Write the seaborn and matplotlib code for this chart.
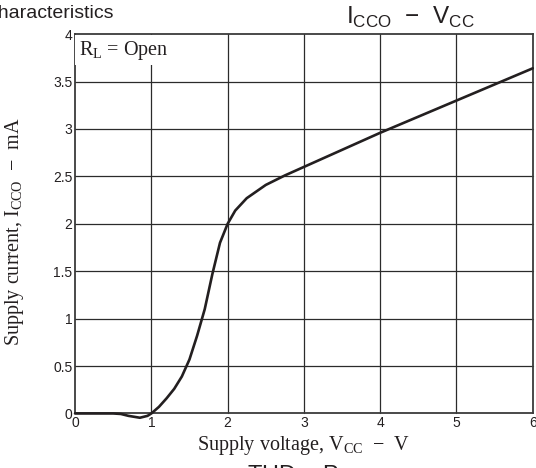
import matplotlib
matplotlib.use("Agg")
import matplotlib.pyplot as plt
import seaborn as sns
import pandas as pd

# Supply current vs supply voltage (RL = Open)
vcc = [0.0, 0.5, 0.6, 0.7, 0.85, 0.95, 1.0, 1.1, 1.2, 1.3, 1.4, 1.5, 1.6, 1.7,
       1.8, 1.9, 2.0, 2.1, 2.25, 2.5, 2.75, 3.0, 3.5, 4.0, 4.5, 5.0, 5.5, 6.0]
icco = [0.0, 0.0, -0.005, -0.025, -0.045, -0.025, 0.0, 0.07, 0.16, 0.26, 0.39,
        0.57, 0.82, 1.1, 1.47, 1.8, 2.0, 2.14, 2.27, 2.41, 2.51, 2.6, 2.78,
        2.96, 3.13, 3.30, 3.47, 3.64]
x_ticks = [0, 1, 2, 3, 4, 5, 6]
y_ticks = [0, 0.5, 1, 1.5, 2, 2.5, 3, 3.5, 4]
y_tick_labels = ["0", "0.5", "1", "1.5", "2", "2.5", "3", "3.5", "4"]

df = pd.DataFrame({"vcc": vcc, "icco": icco})

sns.set_style("white")
plt.rcParams["font.family"] = ["Liberation Sans", "DejaVu Sans"]
plt.rcParams["mathtext.fontset"] = "custom"
plt.rcParams["mathtext.rm"] = "Liberation Serif"
plt.rcParams["mathtext.sf"] = "Liberation Sans"

fig = plt.figure(figsize=(5.36, 4.68), dpi=100)
ax = fig.add_axes([0.140, 0.1165, 0.854, 0.8105])

grid_c = "#2b2b2b"
for xv in x_ticks[1:-1]:
    ax.axvline(xv, color=grid_c, lw=0.9, zorder=1)
for yv in y_ticks[1:-1]:
    ax.axhline(yv, color=grid_c, lw=0.9, zorder=1)

sns.lineplot(data=df, x="vcc", y="icco", ax=ax, color="#231f20", lw=1.9,
             sort=False, zorder=3)

ax.set_xlim(0, 6)
ax.set_ylim(0, 4)
ax.set_xticks(x_ticks)
ax.set_yticks(y_ticks)
ax.set_yticklabels(y_tick_labels)
ax.tick_params(axis="both", length=0, pad=2, labelsize=10, colors="#231f20")
for sp in ax.spines.values():
    sp.set_color("#3a3a3a")
    sp.set_linewidth(1.3)
for line in ax.lines:
    line.set_clip_on(False)

serif = ["Liberation Serif", "DejaVu Serif"]
ax.set_xlabel(r"Supply voltage, V$_{\mathrm{CC}}$  $-$  V", family=serif,
              fontsize=14.5, labelpad=3, color="#231f20")
ax.set_ylabel(r"Supply current, I$_{\mathrm{CCO}}$  $-$  mA", family=serif,
              fontsize=14.5, color="#231f20")
ax.yaxis.set_label_coords(-0.108, 0.48)

ax.text(0.05, 3.95, r"R$_{\mathrm{L}}$ = Open", family=serif, fontsize=14.5,
        ha="left", va="top", color="#231f20", zorder=5,
        bbox=dict(facecolor="white", edgecolor="none", pad=2.5))

fig.text(0.765, 0.962, "I$_{\\mathsf{CCO}}$  −  V$_{\\mathsf{CC}}$", fontsize=17.5,
         ha="center", va="center", color="#231f20")
fig.text(-0.022, 0.972, "characteristics", fontsize=14, ha="left",
         va="center", color="#231f20")
fig.text(0.56, -0.019, "THD − P$_{\\mathsf{O}}$", fontsize=17, ha="center",
         va="center", color="#231f20")

fig.savefig("out.png", dpi=100)
